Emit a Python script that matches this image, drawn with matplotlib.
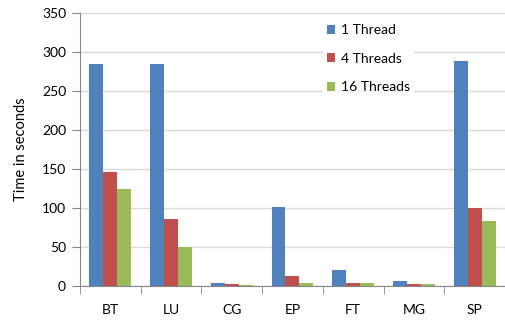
import matplotlib
matplotlib.use('Agg')
import matplotlib.pyplot as plt
import numpy as np

benchmarks = ['BT', 'LU', 'CG', 'EP', 'FT', 'MG', 'SP']
thread_labels = ['1 Thread', '4 Threads', '16 Threads']
t1 = [284, 284, 4, 101, 20.5, 7, 288]
t4 = [146, 86, 2, 13, 4, 3, 100]
t16 = [125, 50.5, 1, 4, 4, 2, 83]
y_ticks = [0, 50, 100, 150, 200, 250, 300, 350]

colors = ['#4F81BD', '#C0504D', '#9BBB59']

plt.rcParams['font.family'] = ['Lato', 'DejaVu Sans']

fig = plt.figure(figsize=(5.06, 3.21), dpi=100)
ax = fig.add_axes([0.158, 0.109, 0.84, 0.8505])

x = np.arange(len(benchmarks))
w = 0.23
for i, (vals, lab) in enumerate(zip([t1, t4, t16], thread_labels)):
    ax.bar(x + (i - 1) * w, vals, w, color=colors[i], label=lab, zorder=3)

ax.set_xlim(-0.5, len(benchmarks) - 0.5)
ax.set_ylim(0, 350)
ax.set_yticks(y_ticks)
ax.set_xticks(x)
ax.set_xticklabels(benchmarks, fontsize=10)
ax.set_xticks(np.arange(-0.5, len(benchmarks)), minor=True)
ax.tick_params(axis='x', which='major', length=0, pad=13)
ax.tick_params(axis='x', which='minor', length=6, color='#868686', direction='out')
ax.tick_params(axis='y', length=6, color='#868686', labelsize=10, pad=4)
ax.yaxis.grid(True, color='#d9d9d9', lw=1, zorder=0)
ax.set_axisbelow(True)
for s in ['top', 'right']:
    ax.spines[s].set_visible(False)
ax.spines['left'].set_color('#868686')
ax.spines['bottom'].set_color('#868686')
ax.set_ylabel('Time in seconds', fontsize=10.5, labelpad=10)

leg = ax.legend(loc='upper left', bbox_to_anchor=(0.555, 1.0), frameon=True,
                fontsize=10, handlelength=0.6, handleheight=0.6, handletextpad=0.4,
                labelspacing=1.2, borderpad=0.3)
leg.get_frame().set_edgecolor('none')
leg.get_frame().set_facecolor('white')
leg.get_frame().set_alpha(1)
leg.set_zorder(5)

fig.savefig('out.png', dpi=100)
